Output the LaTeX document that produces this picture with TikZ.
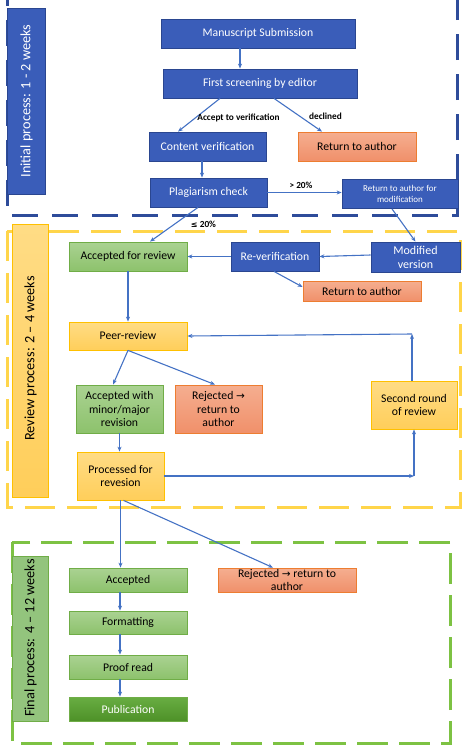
\documentclass[tikz,border=0pt]{standalone}
\usepackage{fontspec}
\setmainfont{Carlito}
\newfontfamily\symf{DejaVu Sans}
\usetikzlibrary{arrows.meta}
\definecolor{bfill}{HTML}{3A5DB9}
\definecolor{bdraw}{HTML}{2A4690}
\definecolor{otop}{HTML}{F5AE90}
\definecolor{obot}{HTML}{F0906A}
\definecolor{odraw}{HTML}{ED7D31}
\definecolor{gtop}{HTML}{AAD292}
\definecolor{gbot}{HTML}{8DC26C}
\definecolor{gdraw}{HTML}{70AD47}
\definecolor{ytop}{HTML}{FFDC85}
\definecolor{ybot}{HTML}{FFCE5A}
\definecolor{ydraw}{HTML}{FFC000}
\definecolor{pubtop}{HTML}{68AD42}
\definecolor{pubbot}{HTML}{4E9128}
\definecolor{arr}{HTML}{4472C4}
\definecolor{bdash}{HTML}{2E4C9A}
\definecolor{ydash}{HTML}{FFD54A}
\definecolor{gdash}{HTML}{7DC243}
\definecolor{glab}{HTML}{93C47D}
\tikzset{
  box/.style={draw, line width=0.8pt, inner sep=1pt, align=center, font=\fontsize{11.7}{13.4}\selectfont},
  sz/.style 2 args={minimum width=#1pt, minimum height=#2pt},
  bluebox/.style={box, fill=bfill, draw=bdraw, text=white},
  orangebox/.style={box, top color=otop, bottom color=obot, draw=odraw},
  greenbox/.style={box, top color=gtop, bottom color=gbot, draw=gdraw},
  yellowbox/.style={box, top color=ytop, bottom color=ybot, draw=ydraw},
  pubbox/.style={box, top color=pubtop, bottom color=pubbot, draw=gdraw, text=white},
  conn/.style={draw=arr, line width=1.1pt, -{Stealth[length=5pt,width=4pt]}},
  elabel/.style={font=\bfseries\fontsize{9.3}{11}\selectfont, inner sep=0pt},
  phase/.style={line width=3pt},
  phaselabel/.style={rotate=90, font=\fontsize{14.3}{16}\selectfont, inner sep=0pt}
}
\begin{document}
\begin{tikzpicture}[x=1pt,y=-1pt]
\useasboundingbox (0,0) rectangle (464,753);
% phase frames
\draw[phase, draw=bdash, dash pattern=on 26pt off 14pt] (7,-20) rectangle (457,215);
\draw[phase, draw=ydash, dash pattern=on 30pt off 12pt] (7,231) rectangle (460,507);
\draw[phase, draw=gdash, dash pattern=on 31pt off 11pt] (12,542) rectangle (450,743);
% phase labels
\filldraw[fill=bfill, draw=bdraw, line width=0.8pt] (7,8) rectangle (45,194);
\node[phaselabel, text=white] (l1) at (26.5,101) {Initial process: 1 - 2 weeks};
\filldraw[top color=ytop, bottom color=ybot, draw=ydraw, line width=0.8pt] (12,224) rectangle (48,497);
\node[phaselabel] (l2) at (30.5,358.5) {Review process: 2 – 4 weeks};
\filldraw[fill=glab, draw=gdraw, line width=0.8pt] (12,556) rectangle (48,721);
\node[phaselabel] (l3) at (30.5,638) {Final process: 4 – 12 weeks};
% nodes
\node[bluebox, sz={194}{29}] (ms) at (258,33.5) {Manuscript Submission};
\node[bluebox, sz={194}{29}] (fs) at (260,83.5) {First screening by editor};
\node[bluebox, sz={117}{29}] (cv) at (207.5,146.5) {Content verification};
\node[orangebox, sz={118}{29}] (ra1) at (357,146.5) {Return to author};
\node[bluebox, sz={117}{29}] (pc) at (208.5,192.5) {Plagiarism check};
\node[bluebox, sz={116}{29}, font=\fontsize{9}{10.3}\selectfont] (ram) at (400,194) {Return to author for\\modification};
\node[bluebox, sz={89}{30}, font=\fontsize{12}{14}\selectfont] (mv) at (415.5,257) {Modified\\version};
\node[greenbox, sz={118}{29}] (afr) at (128,256.5) {Accepted for review};
\node[bluebox, sz={88}{29}] (rv) at (275,256.5) {Re-verification};
\node[orangebox, sz={118}{20}] (ra2) at (362,291) {Return to author};
\node[yellowbox, sz={118}{28}] (pr) at (128,336) {Peer-review};
\node[greenbox, sz={87}{48}] (awm) at (119.5,409) {Accepted with\\minor/major\\revision};
\node[orangebox, sz={87}{48}] (rj1) at (218.5,409) {Rejected {\symf\fontsize{10.5}{10}\selectfont →}\\return to\\author};
\node[yellowbox, sz={86}{48}] (srr) at (414,405) {Second round\\of review};
\node[yellowbox, sz={87}{48}] (pfr) at (120.5,476) {Processed for\\revesion};
\node[greenbox, sz={118}{24}] (acc) at (128,580) {Accepted};
\node[greenbox, sz={118}{23}] (fmt) at (128,622.5) {Formatting};
\node[greenbox, sz={118}{24}] (prf) at (128,667) {Proof read};
\node[pubbox, sz={118}{24}] (pub) at (128,709) {Publication};
\node[orangebox, sz={138}{24}, font=\fontsize{11.7}{12.8}\selectfont] (rj2) at (287,580) {Rejected {\symf\fontsize{10.5}{10}\selectfont →} return to\\author};
\coordinate (c1) at (412,334);
\coordinate (c2) at (414,476);
% connectors
\draw[conn] ([xshift=-18pt]ms.south) -- ([xshift=-20pt]fs.north);
\draw[conn] ([xshift=-40pt]fs.south) -- ([xshift=-29.5pt]cv.north);
\draw[conn] ([xshift=14pt]fs.south) -- ([xshift=-35pt]ra1.north);
\node[elabel] (t1) at (238.5,117.5) {Accept to verification};
\node[elabel] (t2) at (325.5,116) {declined};
\draw[conn] ([xshift=-5.5pt]cv.south) -- ([xshift=-6.5pt]pc.north);
\draw[conn] (pc.east) -- (pc.east -| ram.west);
\node[elabel] (t3) at (301,185.5) {> 20\%};
\draw[conn] ([xshift=-8pt]ram.south) -- (mv.north);
\draw[conn] ([xshift=-10.5pt]pc.south) -- ([xshift=22pt]afr.north);
\node[elabel] (t4) at (203.5,224) {{\symf\fontsize{8}{9}\selectfont ≤} 20\%};
\draw[conn] ([yshift=2pt]mv.west) -- (rv.east);
\draw[conn] (rv.west) -- (afr.east);
\draw[conn] ([xshift=-1pt]rv.south) -- ([yshift=4pt]ra2.west);
\draw[conn] (afr.south) -- (pr.north);
\draw[conn] (pr.south) -- ([xshift=-6.5pt]awm.north);
\draw[conn] (pr.south) -- ([xshift=-3.5pt]rj1.north);
\draw[conn] (awm.south) -- (awm.south |- pfr.north);
\draw[conn] ([xshift=-2pt]srr.north) -- (c1);
\draw[conn] (c1) -- (pr.east);
\draw[conn] (pfr.east) -- (c2);
\draw[conn] (c2) -- (srr.south);
\draw[conn] (pfr.south) -- (pfr.south |- acc.north);
\draw[conn] ([xshift=3pt]pfr.south) -- ([xshift=-14pt]rj2.north);
\draw[conn] ([xshift=-8pt]acc.south) -- ([xshift=-8pt]fmt.north);
\draw[conn] ([xshift=-8pt]fmt.south) -- ([xshift=-8pt]prf.north);
\draw[conn] ([xshift=-8pt]prf.south) -- ([xshift=-8pt]pub.north);
\end{tikzpicture}
\end{document}
